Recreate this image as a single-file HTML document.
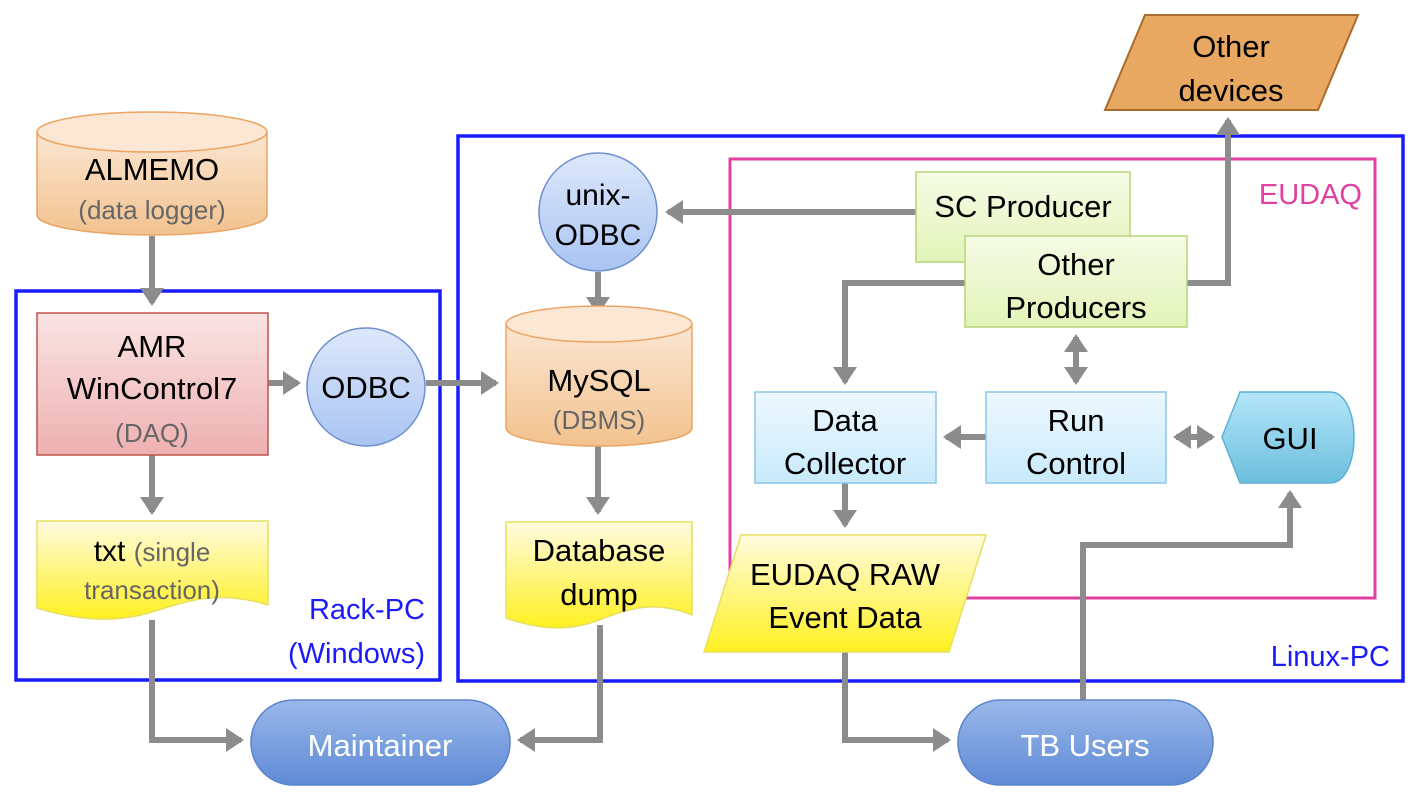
<!DOCTYPE html>
<html><head><meta charset="utf-8"><style>body{margin:0;background:#fff}svg{display:block}</style></head>
<body>
<svg width="1422" height="802" viewBox="0 0 1422 802" xmlns="http://www.w3.org/2000/svg" font-family="Liberation Sans, sans-serif">
<defs>
<linearGradient id="org" x1="0" y1="0" x2="0" y2="1"><stop offset="0" stop-color="#fbe6d2"/><stop offset="1" stop-color="#f2c28e"/></linearGradient>
<linearGradient id="red" x1="0" y1="0" x2="0" y2="1"><stop offset="0" stop-color="#fae4e4"/><stop offset="1" stop-color="#eeb0b0"/></linearGradient>
<linearGradient id="blu" x1="0" y1="0" x2="0" y2="1"><stop offset="0" stop-color="#dde8fb"/><stop offset="1" stop-color="#a9c4f2"/></linearGradient>
<linearGradient id="yel" x1="0" y1="0" x2="0" y2="1"><stop offset="0" stop-color="#fffbe0"/><stop offset="1" stop-color="#fff020"/></linearGradient>
<linearGradient id="grn" x1="0" y1="0" x2="0" y2="1"><stop offset="0" stop-color="#f6fbe6"/><stop offset="1" stop-color="#e2f4b8"/></linearGradient>
<linearGradient id="cyn" x1="0" y1="0" x2="0" y2="1"><stop offset="0" stop-color="#eef8fe"/><stop offset="1" stop-color="#c8eafb"/></linearGradient>
<linearGradient id="gui" x1="0" y1="0" x2="0" y2="1"><stop offset="0" stop-color="#b4e6f8"/><stop offset="1" stop-color="#6cbede"/></linearGradient>
<linearGradient id="pill" x1="0" y1="0" x2="0" y2="1"><stop offset="0" stop-color="#9ab8ea"/><stop offset="1" stop-color="#5f8ad6"/></linearGradient>
<marker id="a" markerWidth="4" markerHeight="4" refX="2.5" refY="2" orient="auto" markerUnits="strokeWidth"><path d="M0,0 L3,2 L0,4 z" fill="#8c8c8c"/></marker>
<marker id="s" markerWidth="4" markerHeight="4" refX="0.5" refY="2" orient="auto" markerUnits="strokeWidth"><path d="M3,0 L0,2 L3,4 z" fill="#8c8c8c"/></marker>
</defs>

<rect x="458" y="136" width="945" height="545" fill="none" stroke="#1a1aff" stroke-width="3.5"/>
<rect x="16" y="291" width="424" height="389" fill="none" stroke="#1a1aff" stroke-width="3.5"/>
<rect x="730" y="159" width="645" height="439" fill="none" stroke="#e0409f" stroke-width="3"/>

<g fill="none" stroke="#8c8c8c" stroke-width="6">
<path d="M152 236 V303" marker-end="url(#a)"/>
<path d="M268 383 H298" marker-end="url(#a)"/>
<path d="M426 383 H496" marker-end="url(#a)"/>
<path d="M916 212 H668" marker-end="url(#a)"/>
<path d="M598 272 V312" marker-end="url(#a)"/>
<path d="M598 446 V512" marker-end="url(#a)"/>
<path d="M152 455 V512" marker-end="url(#a)"/>
<path d="M152 620 V740 H241" marker-end="url(#a)"/>
<path d="M600 625 V740 H520" marker-end="url(#a)"/>
<path d="M965 283 H845 V382" marker-end="url(#a)"/>
<path d="M1187 283 H1228 V120" marker-end="url(#a)"/>
<path d="M1076 337 V382" marker-start="url(#s)" marker-end="url(#a)"/>
<path d="M986 437 H946" marker-end="url(#a)"/>
<path d="M1176 437 H1212" marker-start="url(#s)" marker-end="url(#a)"/>
<path d="M845 483 V525" marker-end="url(#a)"/>
<path d="M845 652 V740 H948" marker-end="url(#a)"/>
<path d="M1083 700 V545 H1290 V493" marker-end="url(#a)"/>
</g>

<polygon points="1145,15 1358,15 1318,110 1105,110" fill="#e8a862" stroke="#a86c2c" stroke-width="2"/>
<text x="1231" y="57" font-size="31" text-anchor="middle">Other</text>
<text x="1231" y="101" font-size="31" text-anchor="middle">devices</text>

<path d="M37 132 V215 A115 20 0 0 0 267 215 V132" fill="url(#org)" stroke="#eba565" stroke-width="1.5"/>
<ellipse cx="152" cy="132" rx="115" ry="20" fill="#fbe7d4" stroke="#eba565" stroke-width="1.5"/>
<text x="152" y="180" font-size="31" text-anchor="middle">ALMEMO</text>
<text x="152" y="219" font-size="26" fill="#666" text-anchor="middle">(data logger)</text>

<rect x="37" y="313" width="231" height="142" fill="url(#red)" stroke="#c0504d" stroke-width="1.5"/>
<text x="152" y="357" font-size="31" text-anchor="middle">AMR</text>
<text x="152" y="399" font-size="31" text-anchor="middle">WinControl7</text>
<text x="152" y="442" font-size="26" fill="#666" text-anchor="middle">(DAQ)</text>

<circle cx="366" cy="387" r="59" fill="url(#blu)" stroke="#6d8fd0" stroke-width="1.5"/>
<text x="366" y="398" font-size="31" text-anchor="middle">ODBC</text>

<circle cx="598" cy="212" r="59" fill="url(#blu)" stroke="#6d8fd0" stroke-width="1.5"/>
<text x="598" y="205" font-size="30" text-anchor="middle">unix-</text>
<text x="598" y="245" font-size="30" text-anchor="middle">ODBC</text>

<path d="M506 324 V428 A93 18 0 0 0 692 428 V324" fill="url(#org)" stroke="#eba565" stroke-width="1.5"/>
<ellipse cx="599" cy="324" rx="93" ry="18" fill="#fbe7d4" stroke="#eba565" stroke-width="1.5"/>
<text x="599" y="391" font-size="31" text-anchor="middle">MySQL</text>
<text x="599" y="429" font-size="26" fill="#666" text-anchor="middle">(DBMS)</text>

<path d="M37 521 H268 V605 C220 590 190 600 152 612 C110 625 70 618 37 608 Z" fill="url(#yel)" stroke="#e6e060" stroke-width="1.5"/>
<text x="152" y="561" font-size="30" text-anchor="middle">txt <tspan font-size="26" fill="#666">(single</tspan></text>
<text x="152" y="599" font-size="26" fill="#666" text-anchor="middle">transaction)</text>

<path d="M506 522 H692 V615 C655 600 630 608 599 620 C565 633 535 628 506 618 Z" fill="url(#yel)" stroke="#e6e060" stroke-width="1.5"/>
<text x="599" y="561" font-size="31" text-anchor="middle">Database</text>
<text x="599" y="605" font-size="31" text-anchor="middle">dump</text>

<rect x="916" y="172" width="214" height="90" fill="url(#grn)" stroke="#b8d47a" stroke-width="1.5"/>
<text x="1023" y="217" font-size="31" text-anchor="middle">SC Producer</text>
<rect x="965" y="236" width="222" height="91" fill="url(#grn)" stroke="#b8d47a" stroke-width="1.5"/>
<text x="1076" y="275" font-size="31" text-anchor="middle">Other</text>
<text x="1076" y="318" font-size="31" text-anchor="middle">Producers</text>

<rect x="755" y="392" width="181" height="91" fill="url(#cyn)" stroke="#8cc6e8" stroke-width="1.5"/>
<text x="845" y="431" font-size="31" text-anchor="middle">Data</text>
<text x="845" y="474" font-size="31" text-anchor="middle">Collector</text>
<rect x="986" y="392" width="180" height="91" fill="url(#cyn)" stroke="#8cc6e8" stroke-width="1.5"/>
<text x="1076" y="431" font-size="31" text-anchor="middle">Run</text>
<text x="1076" y="474" font-size="31" text-anchor="middle">Control</text>

<path d="M1240 392 H1330 C1362 392 1362 483 1330 483 H1240 L1222 437 Z" fill="url(#gui)" stroke="#5fb0d4" stroke-width="1.5"/>
<text x="1290" y="449" font-size="31" text-anchor="middle">GUI</text>

<polygon points="741,535 986,535 949,652 704,652" fill="url(#yel)" stroke="#e6e060" stroke-width="1.5"/>
<text x="845" y="585" font-size="31" text-anchor="middle">EUDAQ RAW</text>
<text x="845" y="628" font-size="31" text-anchor="middle">Event Data</text>

<rect x="251" y="700" width="259" height="85" rx="42" fill="url(#pill)" stroke="#5a84cc" stroke-width="1.5"/>
<text x="380" y="756" font-size="31" fill="#fff" text-anchor="middle">Maintainer</text>
<rect x="958" y="700" width="255" height="85" rx="42" fill="url(#pill)" stroke="#5a84cc" stroke-width="1.5"/>
<text x="1085" y="756" font-size="31" fill="#fff" text-anchor="middle">TB Users</text>

<text x="425" y="619" font-size="29" fill="#1a1aff" text-anchor="end">Rack-PC</text>
<text x="425" y="663" font-size="29" fill="#1a1aff" text-anchor="end">(Windows)</text>
<text x="1390" y="666" font-size="29" fill="#1a1aff" text-anchor="end">Linux-PC</text>
<text x="1362" y="204" font-size="29" fill="#e0409f" text-anchor="end">EUDAQ</text>
</svg>
</body></html>
